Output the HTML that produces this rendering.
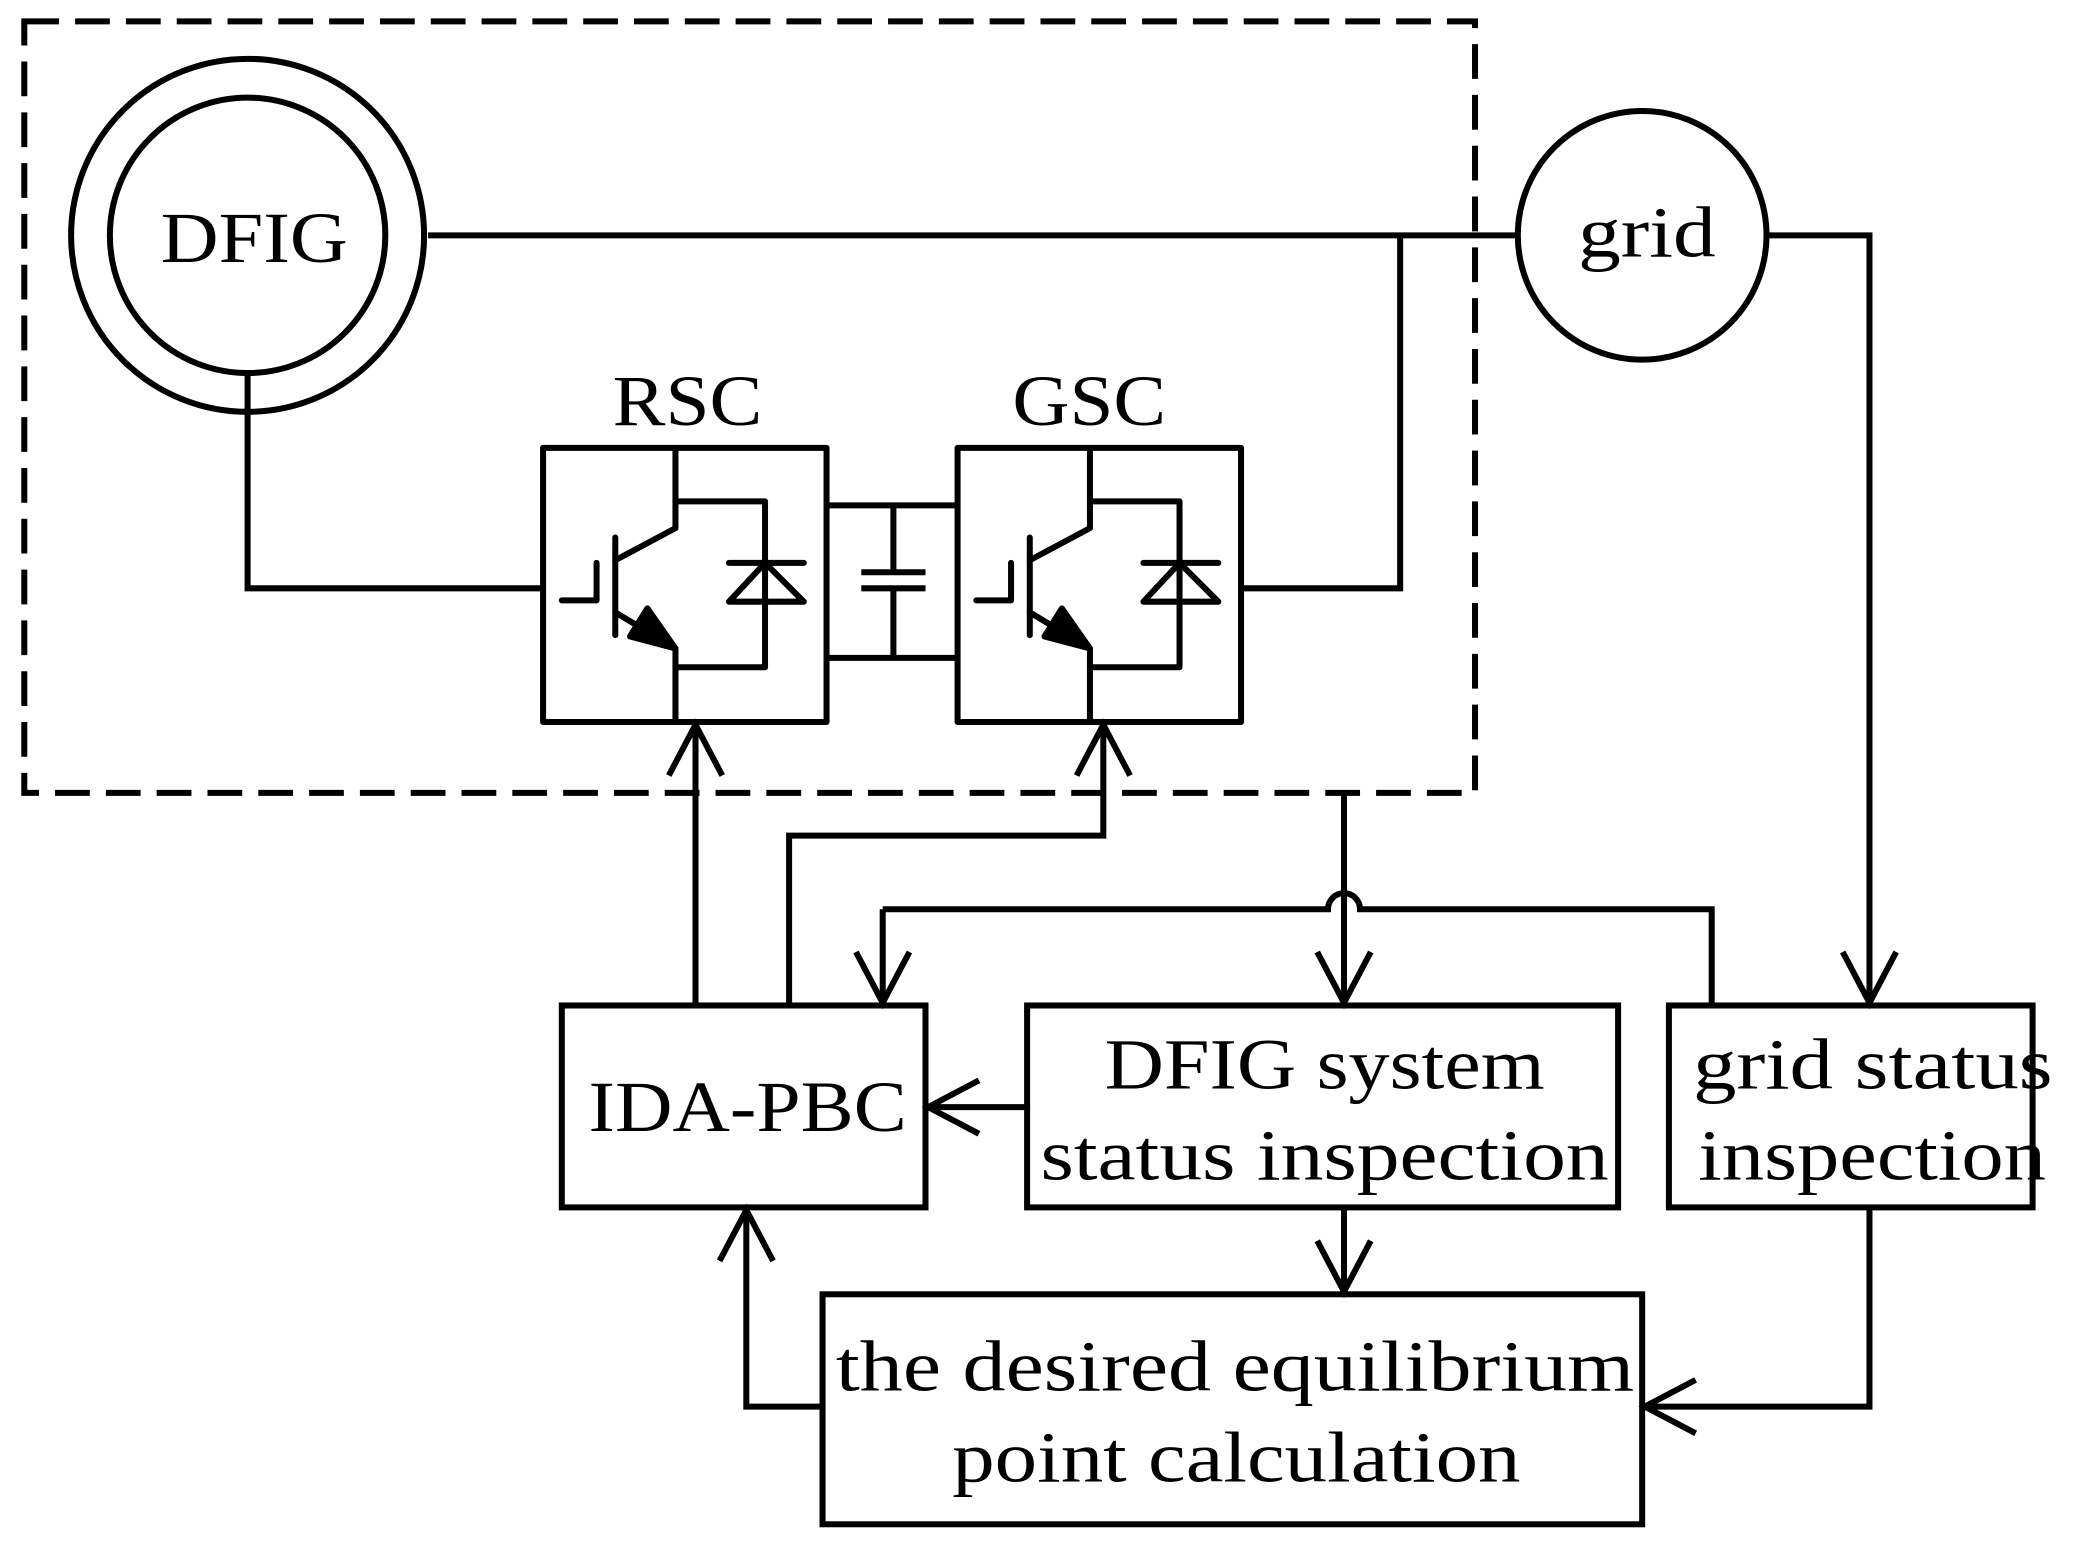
<!DOCTYPE html>
<html><head><meta charset="utf-8"><style>
html,body{margin:0;padding:0;background:#fff;}
svg{display:block;}
text{font-family:"Liberation Serif",serif;font-size:54px;fill:#000;}
</style></head><body>
<svg width="2097" height="1547" viewBox="0 0 1568 1157" xmlns="http://www.w3.org/2000/svg">
<defs>
<g id="igbt" fill="none" stroke="#000" stroke-width="4.5" stroke-linecap="round" stroke-linejoin="round">
  <rect x="406" y="335" width="212" height="205"/>
  <polyline points="505,335 505,395 460,419"/>
  <line x1="460" y1="402" x2="460" y2="475"/>
  <polyline points="420,449 446,449 446,421"/>
  <polyline points="460,458 505,485 505,540"/>
  <polygon points="505,485 471,476 484,455" fill="#000"/>
  <polyline points="505,375 572,375 572,499 505,499"/>
  <line x1="545" y1="421" x2="601" y2="421"/>
  <polygon points="545,450 601,450 572,421"/>
</g>
</defs>
<g fill="none" stroke="#000" stroke-width="4.5">
  <rect x="18" y="16" width="1085" height="577" stroke-dasharray="26,12"/>
  <circle cx="185" cy="176" r="132"/>
  <circle cx="185" cy="176" r="103"/>
  <circle cx="1228" cy="176" r="93"/>
  <line x1="320" y1="176" x2="1135" y2="176"/>
  <polyline points="1047,176 1047,440 928,440"/>
  <polyline points="185,280 185,440 406,440"/>
  <line x1="618" y1="378" x2="715" y2="378"/>
  <line x1="618" y1="492" x2="715" y2="492"/>
  <polyline points="668,378 668,428"/>
  <polyline points="668,440 668,492"/>
  <line x1="644" y1="428" x2="692" y2="428"/>
  <line x1="644" y1="440" x2="692" y2="440"/>
  <line x1="520" y1="750" x2="520" y2="542"/>
  <polyline points="500,580 520,542 540,580"/>
  <polyline points="590,750 590,625 825,625 825,542"/>
  <polyline points="805,580 825,542 845,580"/>
  <polyline points="1005,593 1005,750"/>
  <polyline points="985,712 1005,750 1025,712"/>
  <path d="M660,680 L993,680 A12,12 0 0 1 1017,680 L1280,680 L1280,752"/>
  <line x1="660" y1="680" x2="660" y2="750"/>
  <polyline points="640,712 660,750 680,712"/>
  <polyline points="1320,176 1398,176 1398,750"/>
  <polyline points="1378,712 1398,750 1418,712"/>
  <rect x="420" y="752" width="272" height="151"/>
  <rect x="768" y="752" width="442" height="151"/>
  <rect x="1248" y="752" width="272" height="151"/>
  <rect x="615" y="968" width="613" height="172"/>
  <line x1="768" y1="828" x2="694" y2="828"/>
  <polyline points="732,808 694,828 732,848"/>
  <line x1="1005" y1="903" x2="1005" y2="966"/>
  <polyline points="985,928 1005,966 1025,928"/>
  <polyline points="1398,903 1398,1052 1230,1052"/>
  <polyline points="1268,1032 1230,1052 1268,1072"/>
  <polyline points="615,1052 558,1052 558,905"/>
  <polyline points="538,943 558,905 578,943"/>
</g>
<use href="#igbt"/>
<use href="#igbt" x="310"/>
<g lengthAdjust="spacingAndGlyphs">
  <text x="120" y="196" textLength="140" lengthAdjust="spacingAndGlyphs">DFIG</text>
  <text x="1180" y="192" textLength="103" lengthAdjust="spacingAndGlyphs">grid</text>
  <text x="458" y="318" textLength="112" lengthAdjust="spacingAndGlyphs">RSC</text>
  <text x="757" y="318" textLength="115" lengthAdjust="spacingAndGlyphs">GSC</text>
  <text x="440" y="846" textLength="238" lengthAdjust="spacingAndGlyphs">IDA-PBC</text>
  <text x="826" y="814" textLength="329" lengthAdjust="spacingAndGlyphs">DFIG system</text>
  <text x="778" y="882" textLength="425" lengthAdjust="spacingAndGlyphs">status inspection</text>
  <text x="1266" y="814" textLength="269" lengthAdjust="spacingAndGlyphs">grid status</text>
  <text x="1270" y="882" textLength="260" lengthAdjust="spacingAndGlyphs">inspection</text>
  <text x="625" y="1040" textLength="597" lengthAdjust="spacingAndGlyphs">the desired equilibrium</text>
  <text x="712" y="1108" textLength="425" lengthAdjust="spacingAndGlyphs">point calculation</text>
</g>
</svg>
</body></html>
